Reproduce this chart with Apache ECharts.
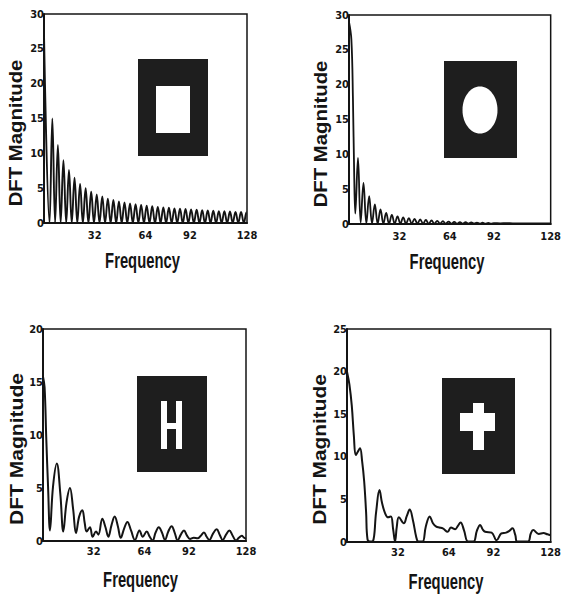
<!DOCTYPE html>
<html><head><meta charset="utf-8">
<script src="https://cdn.jsdelivr.net/npm/echarts@6/dist/echarts.min.js"></script>
<style>html,body{margin:0;padding:0;background:#fff}#c{width:564px;height:595px}</style>
</head><body><div id="c"></div>
<script>
// ---- data ----
const freqTicks = [32, 64, 92, 128];
const yMaxes = [30, 30, 20, 25];

const rectFreq = [0, 3.5, 5.25, 7, 8.75, 10.5, 12.25, 14, 15.75, 17.5, 19.25, 21, 22.75, 24.5, 26.25, 28, 29.75,
  31.5, 33.25, 35, 36.75, 38.5, 40.25, 42, 43.75, 45.5, 47.25, 49, 50.75, 52.5, 54.25, 56, 57.75, 59.5, 61.25,
  63, 64.75, 66.5, 68.25, 70, 71.75, 73.5, 75.25, 77, 78.75, 80.5, 82.25, 84, 85.75, 87.5, 89.25, 91, 92.75,
  94.5, 96.25, 98, 99.75, 101.5, 103.25, 105, 106.75, 108.5, 110.25, 112, 113.75, 115.5, 117.25, 119, 120.75,
  122.5, 124.25, 126, 127.75, 128];
const rectMag = [27, 0, 15, 0, 11.2, 0, 9.0, 0, 7.6, 0, 6.5, 0, 5.6, 0, 5.0, 0, 4.5,
  0, 4.1, 0, 3.8, 0, 3.5, 0, 3.3, 0, 3.1, 0, 2.95, 0, 2.8, 0, 2.7, 0, 2.6,
  0, 2.5, 0, 2.4, 0, 2.3, 0, 2.25, 0, 2.2, 0, 2.1, 0, 2.05, 0, 2.0, 0, 1.95,
  0, 1.9, 0, 1.85, 0, 1.8, 0, 1.75, 0, 1.7, 0, 1.7, 0, 1.65, 0, 1.6,
  0, 1.6, 0, 1.55, 1.5];

const circFreq = [0, 1.5, 2.5, 3.3, 4.0, 5.7, 7.4, 9.2, 11.0, 12.8, 14.6, 16.4, 18.2, 20.0, 21.8, 23.6, 25.4,
  27.2, 29.0, 30.8, 32.6, 34.4, 36.2, 38.0, 39.8, 41.6, 43.4, 45.2, 47.0, 48.8, 50.6, 52.4, 54.2, 56.0, 57.8,
  59.6, 61.4, 63.2, 65.0, 66.8, 68.6, 70.4, 72.2, 74.0, 75.8, 77.6, 79.4, 81.2, 83.0, 84.8, 86.6, 88.4, 90.2,
  92, 96, 100, 104, 108, 112, 116, 120, 124, 128];
const circMag = [29, 26.5, 18, 7, 1.5, 9.5, 0.2, 5.9, 0.1, 4.0, 0.1, 2.8, 0.05, 2.1, 0.05, 1.6, 0.05,
  1.3, 0.05, 1.1, 0.05, 0.95, 0.05, 0.85, 0.05, 0.75, 0.05, 0.65, 0.05, 0.58, 0.05, 0.5, 0.05, 0.45, 0.05,
  0.4, 0.05, 0.35, 0.05, 0.3, 0.05, 0.28, 0.05, 0.25, 0.05, 0.22, 0.05, 0.2, 0.05, 0.18, 0.05, 0.16, 0.05,
  0.12, 0.1, 0.12, 0.1, 0.1, 0.1, 0.1, 0.1, 0.1, 0.1];

const hFreq = [0, 1, 2.1, 3.2, 4.4, 6.3, 8.7, 10.9, 12.8, 14.8, 17, 19, 20.8, 22.8, 24.8, 26.3, 27.5, 29.6,
  31.3, 33.4, 34.9, 37.4, 39.4, 41.2, 43.2, 45.2, 47.2, 49, 51.2, 53.2, 55.5, 58, 60.8, 62.9, 65.4, 67.3,
  69.1, 71, 73, 75, 76.9, 79, 81.1, 83, 84.9, 86.9, 88.9, 90.8, 92.7, 95, 97.5, 99.5, 101.5, 103.2, 104.9,
  107.2, 109.5, 111.4, 113.3, 115.4, 117.5, 119.6, 121.7, 123.5, 125.3, 126.8, 128];
const hMag = [15.5, 14.5, 9.5, 5.1, 1.0, 5.1, 7.3, 4.5, 0.9, 3.6, 5.0, 3.0, 0.75, 2.3, 2.9, 1.7, 0.9, 1.3,
  0.4, 0.9, 0.6, 2.1, 1.3, 0.4, 1.5, 2.3, 1.4, 0.3, 1.2, 1.8, 1.0, 0.1, 1.0, 0.4, 0.9, 0.4,
  0.05, 0.8, 1.3, 0.8, 0.1, 0.9, 1.4, 0.8, 0.05, 0.6, 1.0, 0.5, 0.2, 0.3, 0.25, 0.5, 0.8, 0.4, 0.1,
  0.7, 1.1, 0.6, 0.1, 0.6, 1.0, 0.5, 0.05, 0.3, 0.5, 0.3, 0.2];

const plusFreq = [0, 1.5, 3, 4.3, 5.5, 6.8, 8.2, 9.5, 10.8, 12, 12.9, 14.5, 16.3, 18.3, 20.4, 22, 23.9, 25.8,
  27.6, 29, 30.2, 31.3, 32.6, 35.7, 37.5, 39.4, 41.5, 43.5, 44.9, 47.5, 49.5, 52, 54, 56.1, 58, 60.2, 63.3,
  65.3, 68, 69.7, 71.4, 73.5, 76.1, 79.5, 81.6, 83.7, 85.2, 86.8, 90.9, 94, 97, 100, 102, 104, 105.8, 107,
  113.7, 115.5, 117, 120.5, 123.5, 126, 128];
const plusMag = [20, 18.5, 16, 12.5, 10.2, 10.6, 11.0, 9.5, 7.1, 3.5, 0.3, 0.05, 0.1, 3.5, 6.1, 4.6, 3.4, 2.9,
  3.0, 1.5, 0.05, 1.8, 2.9, 2.2, 3.0, 3.8, 2.5, 0.6, 0.05, 0.05, 1.8, 3.0, 2.2, 1.8, 1.7, 1.6, 1.2,
  1.7, 1.5, 1.9, 2.3, 1.4, 0.05, 0.05, 1.3, 2.0, 1.5, 1.2, 1.1, 0.2, 1.0, 1.1, 1.3, 1.6, 0.8, 0.05,
  0.05, 1.0, 1.4, 0.95, 1.05, 0.9, 0.8];

const seriesFreq = [rectFreq, circFreq, hFreq, plusFreq];
const seriesMag = [rectMag, circMag, hMag, plusMag];

// ---- layout ----
const grids = [
  {left: 44, top: 14, width: 203, height: 209},
  {left: 349, top: 15, width: 208, height: 209},
  {left: 43, top: 329, width: 203, height: 212},
  {left: 347, top: 329, width: 209, height: 213}
];
const lineWidths = [1.9, 1.8, 2, 2];
const xLabelMargins = [7, 7, 5, 5];
const ink = '#141414';
const tickFont = "'Liberation Sans Narrow','DejaVu Sans Condensed','Liberation Sans',Arial,sans-serif";
const titleFont = "'Liberation Sans',Arial,Helvetica,sans-serif";

const option = {
  animation: false,
  backgroundColor: '#fff',
  grid: grids.map(g => Object.assign({show: true, borderColor: ink, borderWidth: 1.5, backgroundColor: 'transparent'}, g)),
  xAxis: grids.map((g, i) => ({
    type: 'value', gridIndex: i, min: 0, max: 128,
    axisLine: {show: true, onZero: false, lineStyle: {color: ink, width: 2}},
    axisTick: {show: false},
    splitLine: {show: false},
    axisLabel: {customValues: freqTicks, margin: xLabelMargins[i], color: ink, fontFamily: tickFont, fontWeight: 'bold', fontSize: 11}
  })),
  yAxis: grids.map((g, i) => ({
    type: 'value', gridIndex: i, min: 0, max: yMaxes[i], interval: 5,
    axisLine: {show: true, lineStyle: {color: ink, width: 2}},
    axisTick: {show: false},
    splitLine: {show: false},
    axisLabel: {margin: 0, color: ink, fontFamily: tickFont, fontWeight: 'bold', fontSize: 11}
  })),
  series: seriesFreq.map((fr, i) => ({
    type: 'line', xAxisIndex: i, yAxisIndex: i,
    data: fr.map((f, j) => [f, seriesMag[i][j]]),
    symbol: 'none', smooth: 0.4, clip: true,
    lineStyle: {color: ink, width: lineWidths[i]}
  })),
  graphic: [
    // axis titles
    ...[[16, 133, 1.13], [321, 134, 1.13], [17, 449, 1.17], [320, 449.5, 1.16]].map(p => ({
      type: 'text', x: p[0], y: p[1], rotation: Math.PI / 2, scaleX: p[2], scaleY: 1,
      style: {text: 'DFT Magnitude', fontSize: 18, fontWeight: 'bold', fontFamily: titleFont, fill: ink, align: 'center', verticalAlign: 'middle'}
    })),
    ...[[142.5, 260], [447, 261], [140.5, 579.7], [446, 581]].map(p => ({
      type: 'text', x: p[0], y: p[1], scaleX: 0.74, scaleY: 1.12,
      style: {text: 'Frequency', fontSize: 20, fontWeight: 'bold', fontFamily: titleFont, fill: ink, align: 'center', verticalAlign: 'middle'}
    })),
    // inset images
    {type: 'rect', shape: {x: 138, y: 59, width: 70, height: 97}, style: {fill: '#1e1e1e'}},
    {type: 'rect', shape: {x: 156, y: 86, width: 34, height: 47}, style: {fill: '#fff'}},
    {type: 'rect', shape: {x: 444, y: 61, width: 73, height: 97}, style: {fill: '#1e1e1e'}},
    {type: 'ellipse', shape: {cx: 480, cy: 110, rx: 17.5, ry: 23.5}, style: {fill: '#fff'}},
    {type: 'rect', shape: {x: 137, y: 376, width: 70, height: 96}, style: {fill: '#1e1e1e'}},
    {type: 'rect', shape: {x: 161, y: 401, width: 6, height: 48}, style: {fill: '#fff'}},
    {type: 'rect', shape: {x: 176, y: 401, width: 6, height: 48}, style: {fill: '#fff'}},
    {type: 'rect', shape: {x: 161, y: 423, width: 21, height: 6}, style: {fill: '#fff'}},
    {type: 'rect', shape: {x: 442, y: 378, width: 73, height: 96}, style: {fill: '#1e1e1e'}},
    {type: 'rect', shape: {x: 473, y: 403, width: 11, height: 47}, style: {fill: '#fff'}},
    {type: 'rect', shape: {x: 460, y: 413, width: 35, height: 18}, style: {fill: '#fff'}}
  ]
};
const chart = echarts.init(document.getElementById('c'), null, {renderer: 'svg'});
chart.setOption(option);
</script>
</body></html>
